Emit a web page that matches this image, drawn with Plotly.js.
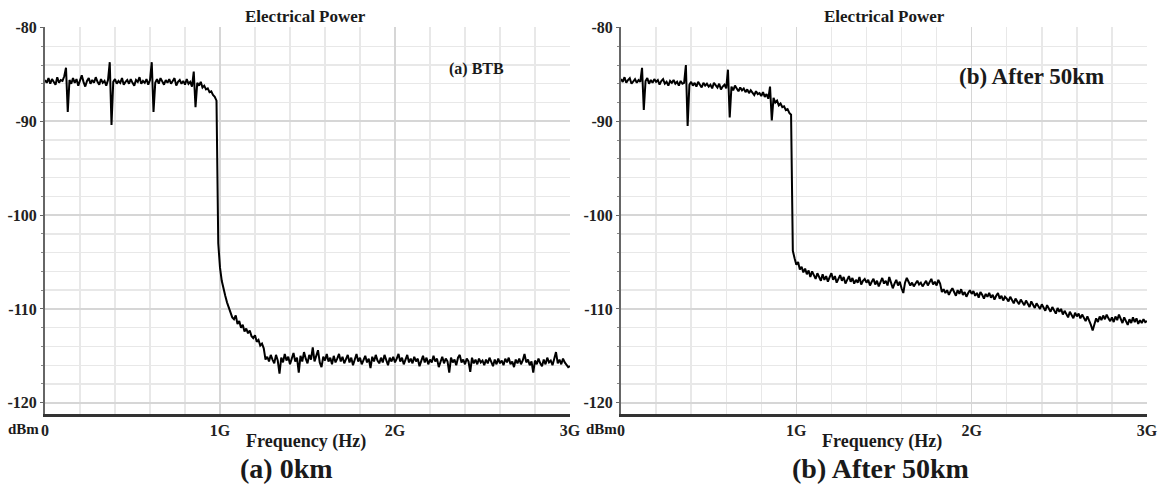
<!DOCTYPE html>
<html>
<head>
<meta charset="utf-8">
<script src="https://cdn.plot.ly/plotly-3.0.1.min.js"></script>
<style>html,body{margin:0;padding:0;background:#fff;}#chart{width:1162px;height:489px;}</style>
</head>
<body>
<div id="chart"></div>
<script>
// Frequency grid: first sample and sample spacing (Hz) — positions computed by Plotly (x0/dx)
const freqStart = 0;
const freqStep = 1e7;

// (a) 0km / BTB — electrical power (dBm), one value per 10 MHz from 0 to 3 GHz
const powerBTB = [
 -85.6,-85.9,-85.4,-86.0,-85.5,-85.8,-86.1,-85.3,-85.9,-85.6,
 -85.7,-85.2,-84.3,-89.0,-85.6,-86.0,-85.4,-85.9,-85.5,-86.2,
 -85.6,-85.1,-85.8,-86.3,-85.7,-85.4,-86.0,-85.6,-85.9,-85.3,
 -85.8,-86.1,-85.5,-85.9,-85.7,-86.2,-85.6,-83.7,-90.4,-85.8,
 -85.5,-86.0,-85.7,-85.9,-85.4,-86.1,-85.8,-85.6,-86.0,-85.5,
 -85.9,-86.2,-85.6,-85.8,-85.3,-86.0,-85.7,-85.9,-85.5,-86.1,
 -85.6,-83.7,-89.0,-85.9,-85.5,-86.0,-85.4,-85.8,-86.1,-85.6,
 -85.9,-85.5,-86.0,-85.7,-85.4,-86.2,-85.8,-85.6,-86.0,-85.7,
 -86.1,-85.5,-86.0,-85.8,-86.3,-84.7,-88.5,-85.9,-86.2,-85.8,
 -86.4,-86.2,-86.6,-86.5,-86.9,-86.8,-87.2,-87.4,-87.8,-103.0,
 -105.6,-107.0,-107.9,-108.6,-109.3,-109.8,-110.4,-110.9,-111.1,-110.7,
 -111.6,-111.3,-112.0,-111.7,-112.4,-112.1,-112.6,-112.3,-112.9,-113.1,
 -112.8,-113.5,-113.3,-113.9,-113.7,-114.2,-115.4,-115.1,-115.6,-114.9,
 -115.4,-115.8,-114.9,-115.5,-116.9,-115.2,-115.7,-114.8,-115.5,-115.1,
 -115.9,-115.3,-114.7,-115.6,-115.2,-116.8,-115.0,-115.6,-114.6,-115.3,
 -115.8,-114.9,-115.4,-114.1,-115.6,-115.0,-114.4,-115.7,-116.2,-115.1,
 -115.5,-114.8,-115.6,-115.2,-115.9,-115.0,-115.7,-115.3,-114.8,-115.6,
 -115.1,-115.8,-115.4,-114.9,-115.7,-115.2,-116.0,-115.3,-114.8,-115.6,
 -115.2,-115.9,-115.4,-115.0,-115.7,-115.3,-116.3,-115.1,-115.6,-114.9,
 -115.5,-115.8,-115.2,-115.7,-114.9,-115.4,-116.0,-115.2,-115.6,-115.1,
 -115.7,-115.3,-114.8,-115.6,-115.2,-115.9,-115.4,-114.9,-115.7,-115.3,
 -115.8,-115.1,-115.6,-115.3,-116.1,-115.4,-115.0,-115.7,-115.2,-115.9,
 -115.4,-115.7,-115.0,-115.6,-115.3,-116.2,-115.5,-115.1,-115.8,-115.3,
 -115.6,-116.8,-115.2,-115.7,-115.4,-116.0,-115.2,-114.9,-115.7,-115.4,
 -115.9,-115.3,-115.6,-116.7,-115.2,-115.8,-115.4,-115.9,-115.3,-115.7,
 -115.5,-116.0,-115.4,-115.8,-115.2,-115.7,-116.1,-115.4,-115.9,-115.3,
 -115.8,-115.5,-116.0,-115.3,-115.7,-115.2,-115.9,-115.6,-116.2,-115.4,
 -115.8,-115.3,-115.9,-115.5,-114.8,-115.7,-115.4,-116.0,-115.6,-116.8,
 -115.5,-115.9,-115.3,-115.8,-116.1,-115.4,-115.9,-115.2,-115.7,-115.5,
 -116.0,-115.3,-114.6,-115.8,-115.4,-115.9,-115.3,-115.7,-115.9,-116.2,
 -116.1
];

// (b) After 50km — electrical power (dBm), one value per 10 MHz from 0 to 3 GHz
const power50km = [
 -85.5,-85.8,-85.3,-85.9,-85.6,-85.4,-86.0,-85.7,-85.5,-85.9,
 -85.6,-85.8,-84.3,-88.8,-85.7,-85.4,-86.0,-85.6,-85.9,-85.5,
 -85.8,-85.6,-86.1,-85.7,-85.5,-86.0,-85.8,-86.2,-85.7,-85.9,
 -85.6,-86.0,-85.8,-86.2,-85.7,-86.0,-85.9,-84.0,-90.5,-86.1,
 -85.8,-86.2,-85.9,-86.3,-85.8,-86.1,-86.4,-85.9,-86.2,-86.0,
 -86.3,-86.1,-86.5,-85.9,-86.2,-86.4,-86.0,-86.6,-86.3,-86.1,
 -86.5,-84.5,-89.6,-86.3,-86.7,-86.2,-86.5,-86.8,-86.4,-86.7,
 -86.5,-86.9,-86.6,-87.0,-86.7,-86.9,-87.2,-86.8,-87.1,-87.0,
 -87.3,-86.9,-87.4,-87.1,-87.6,-86.3,-89.9,-87.5,-88.0,-87.8,
 -88.3,-88.1,-88.5,-88.4,-88.8,-88.7,-89.1,-89.3,-103.8,-104.6,
 -105.3,-105.0,-105.8,-105.5,-106.1,-105.7,-106.3,-105.9,-106.6,-106.0,
 -106.4,-106.8,-106.2,-106.7,-107.0,-106.3,-106.9,-106.5,-107.1,-106.6,
 -106.2,-106.9,-106.5,-107.2,-106.7,-106.4,-107.0,-106.6,-107.3,-106.8,
 -106.5,-107.1,-106.7,-107.3,-106.9,-107.2,-106.6,-107.4,-107.0,-106.8,
 -107.2,-106.9,-107.5,-107.1,-106.8,-107.4,-107.0,-107.6,-107.2,-106.7,
 -107.3,-107.0,-107.5,-106.6,-107.2,-107.8,-107.3,-106.9,-107.5,-107.1,
 -107.8,-108.3,-107.2,-106.7,-107.1,-107.5,-107.2,-107.6,-107.3,-107.0,
 -107.4,-107.2,-107.6,-107.3,-107.0,-107.5,-107.2,-106.8,-107.4,-107.1,
 -107.5,-106.9,-107.3,-108.2,-107.9,-108.3,-108.0,-108.5,-108.1,-107.8,
 -108.2,-108.6,-108.0,-108.4,-107.9,-108.5,-108.2,-108.7,-108.3,-108.0,
 -108.4,-108.1,-108.6,-108.3,-108.8,-108.2,-108.5,-108.9,-108.4,-108.7,
 -108.3,-108.8,-108.5,-109.0,-108.6,-108.3,-108.9,-108.6,-109.1,-108.7,
 -108.9,-109.2,-108.7,-109.0,-109.4,-108.9,-109.2,-109.5,-109.0,-109.3,
 -109.6,-109.1,-109.4,-109.8,-109.2,-109.5,-109.9,-109.4,-109.7,-110.0,
 -109.5,-109.8,-110.2,-109.6,-110.0,-110.3,-109.8,-110.1,-110.5,-109.9,
 -110.3,-110.0,-110.6,-110.2,-110.5,-110.9,-110.3,-110.7,-111.0,-110.4,
 -110.8,-110.5,-111.0,-110.6,-110.9,-111.3,-110.8,-111.2,-111.7,-112.3,
 -111.5,-111.0,-111.4,-110.8,-111.2,-110.7,-111.1,-110.6,-111.0,-111.3,
 -110.9,-111.4,-110.8,-111.2,-110.6,-111.0,-111.5,-110.9,-111.3,-111.7,
 -111.1,-111.5,-110.9,-111.4,-111.0,-111.6,-111.2,-111.5,-111.1,-111.4,
 -111.3
];

// Tick labels
const xTickVals = [0, 1e9, 2e9, 3e9];
const xTickText = ['0', '1G', '2G', '3G'];
const yTickVals = [-80, -90, -100, -110, -120];
const yTickText = ['-80', '-90', '-100', '-110', '-120'];

const W = 1162, H = 489;
const px = x => x / W;
const py = y => 1 - y / H;
const SERIF = 'Liberation Serif, Times New Roman, serif';

const traces = [
  {type: 'scatter', mode: 'lines', x0: freqStart, dx: freqStep, y: powerBTB,
   xaxis: 'x', yaxis: 'y', line: {color: '#000', width: 2}, hoverinfo: 'skip'},
  {type: 'scatter', mode: 'lines', x0: freqStart, dx: freqStep, y: power50km,
   xaxis: 'x2', yaxis: 'y2', line: {color: '#000', width: 2}, hoverinfo: 'skip'}
];

function xAxis(domain, anchor) {
  return {
    domain: domain, anchor: anchor, range: [0, 3e9],
    tickmode: 'array', tickvals: xTickVals, ticktext: xTickText,
    tickfont: {family: SERIF, size: 16, color: '#222', weight: 'bold'},
    showgrid: true, gridcolor: '#d6d6d6', gridwidth: 1.6,
    minor: {tickmode: 'linear', tick0: 0, dtick: 2e8, showgrid: true, gridcolor: '#e8e8e8', gridwidth: 1.4, ticks: ''},
    showline: true, linecolor: '#333', linewidth: 2.5,
    ticks: '', zeroline: false, fixedrange: true
  };
}
function yAxis(domain, anchor) {
  return {
    domain: domain, anchor: anchor, range: [-121.2, -79.95],
    tickmode: 'array', tickvals: yTickVals, ticktext: yTickText,
    tickfont: {family: SERIF, size: 16, color: '#222', weight: 'bold'},
    showgrid: true, gridcolor: '#d6d6d6', gridwidth: 1.6,
    minor: {tickmode: 'linear', tick0: -80, dtick: 2, showgrid: true, gridcolor: '#e8e8e8', gridwidth: 1.4,
            ticks: 'outside', ticklen: 2, tickcolor: '#888'},
    showline: true, linecolor: '#666', linewidth: 2,
    ticks: 'outside', ticklen: 3, tickcolor: '#666', tickwidth: 1,
    zeroline: false, fixedrange: true
  };
}

const yDom = [py(414), py(27)];
const layout = {
  width: W, height: H,
  margin: {l: 0, r: 0, t: 0, b: 0},
  paper_bgcolor: '#fff', plot_bgcolor: '#fff',
  showlegend: false,
  xaxis: xAxis([px(45), px(570)], 'y'),
  yaxis: yAxis(yDom, 'x'),
  xaxis2: xAxis([px(621), px(1147)], 'y2'),
  yaxis2: yAxis(yDom, 'x2'),
  annotations: [
    {text: 'Electrical Power', x: px(305), y: py(17), size: 17},
    {text: 'Electrical Power', x: px(884), y: py(17), size: 17},
    {text: '(a) BTB', x: px(477), y: py(69), size: 16},
    {text: '(b) After 50km', x: px(1031), y: py(76), size: 23},
    {text: 'dBm', x: px(23), y: py(429), size: 15},
    {text: 'dBm', x: px(601), y: py(429), size: 15},
    {text: 'Frequency (Hz)', x: px(306), y: py(441), size: 18},
    {text: 'Frequency (Hz)', x: px(882), y: py(441), size: 18},
    {text: '(a) 0km', x: px(286), y: py(468), size: 28},
    {text: '(b) After 50km', x: px(880), y: py(468), size: 28}
  ].map(a => ({
    text: a.text, x: a.x, y: a.y, xref: 'paper', yref: 'paper',
    xanchor: 'center', yanchor: 'middle', showarrow: false,
    font: {family: SERIF, size: a.size, color: '#1a1a1a', weight: 'bold'}
  }))
};

Plotly.newPlot('chart', traces, layout, {staticPlot: true, displayModeBar: false});
</script>
</body>
</html>
